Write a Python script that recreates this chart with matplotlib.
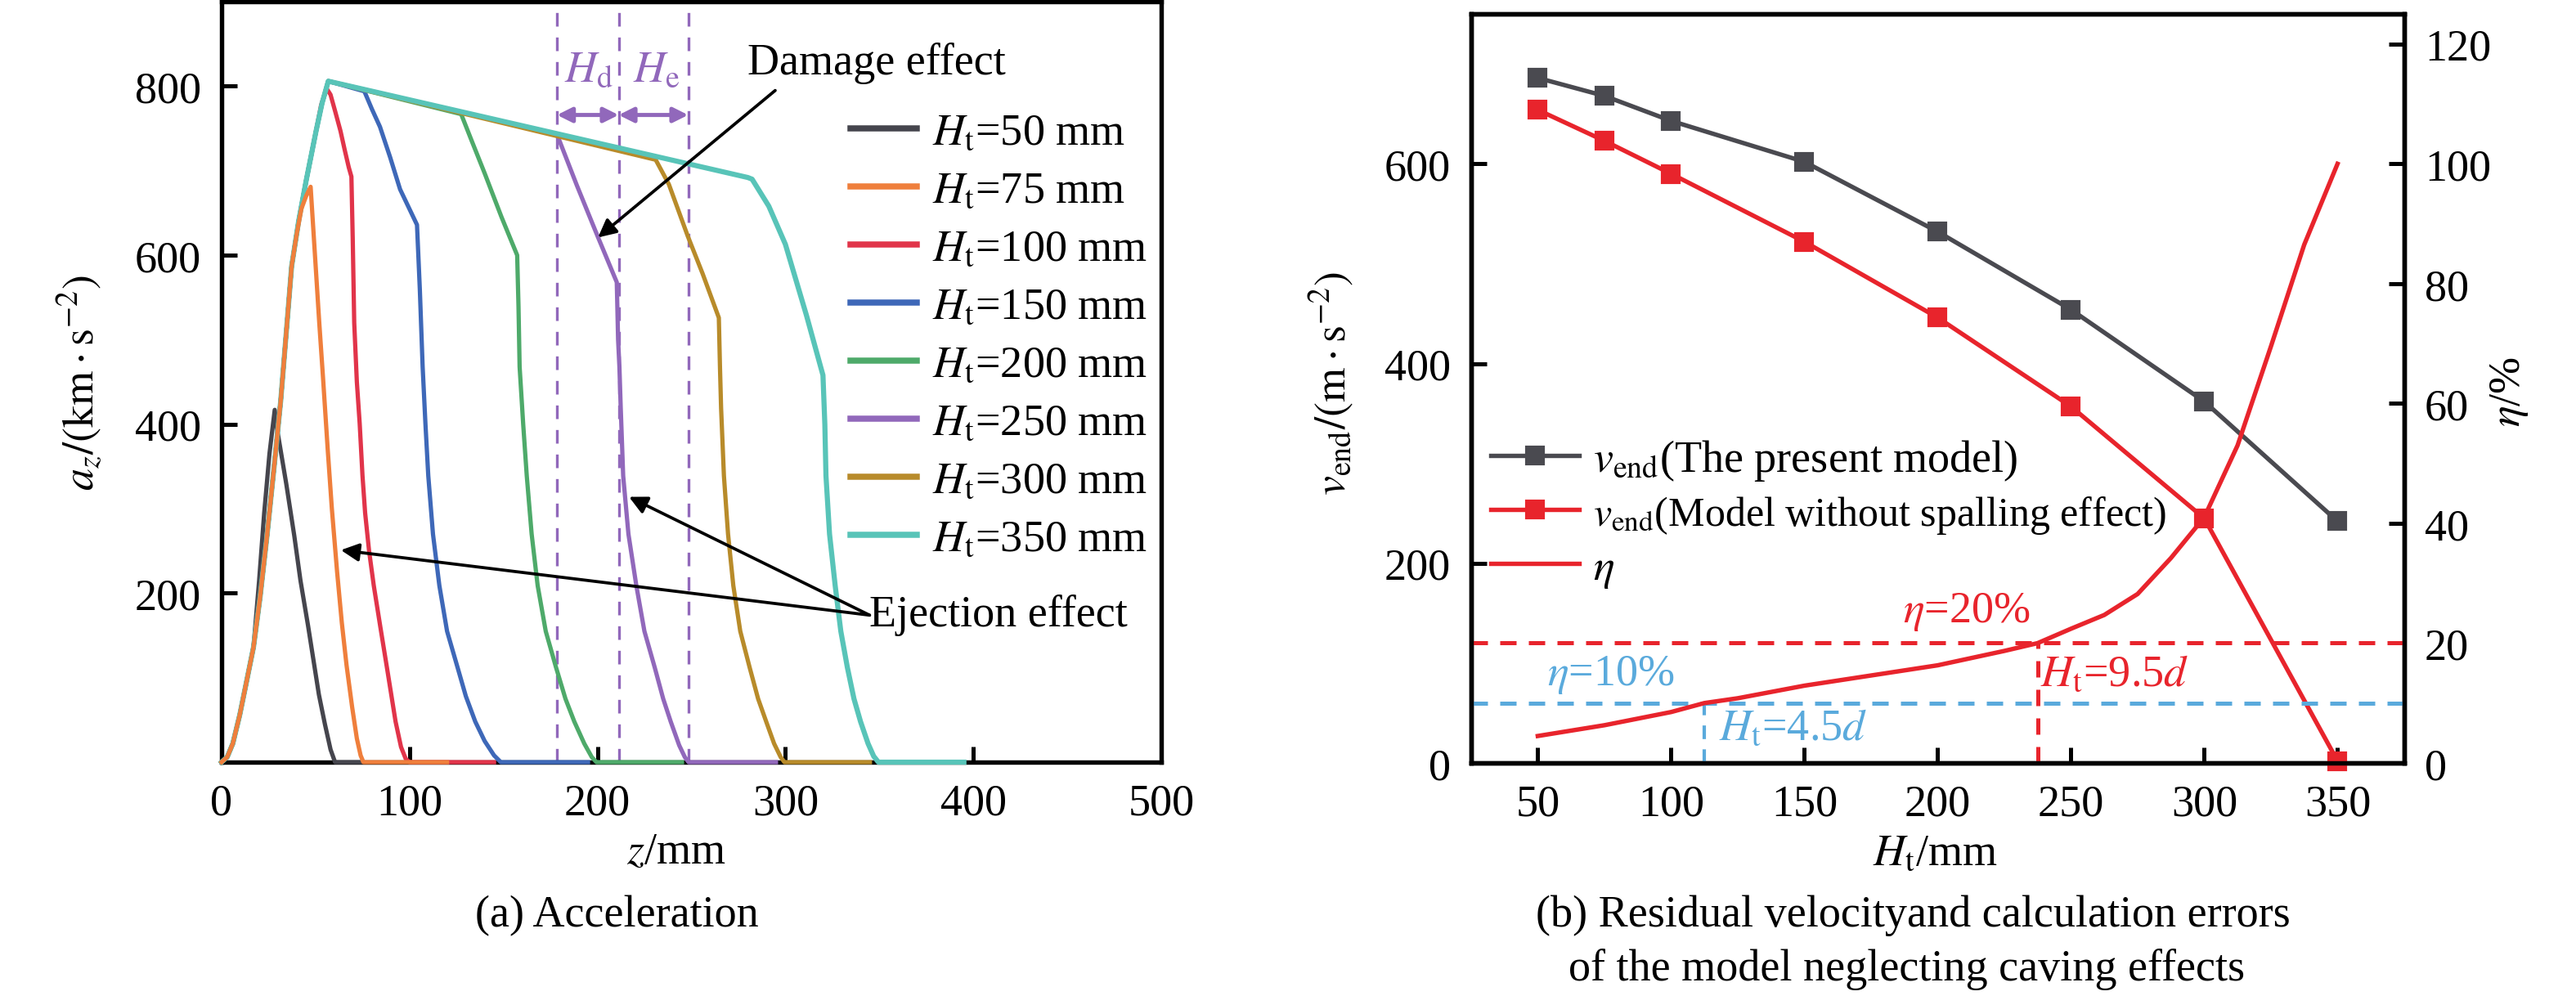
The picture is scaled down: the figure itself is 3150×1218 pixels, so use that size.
import matplotlib
matplotlib.use("Agg")
import matplotlib.pyplot as plt
from matplotlib.lines import Line2D

plt.rcParams['font.family'] = ['Liberation Serif', 'DejaVu Serif']
plt.rcParams['mathtext.fontset'] = 'stix'
plt.rcParams['font.size'] = 13

# ---- (a) acceleration curves ----
# common rising branch
z_rise = [0, 3, 6, 9.7, 13, 17, 20.5, 24.2, 28, 31.5, 34.5, 37.3]
a_rise = [0, 6, 22, 56, 92, 136, 195, 268, 350, 428, 510, 587]
# common top branch (H >= 150)
z_top = [41, 45, 50.3, 53.5, 56.8]
a_top = [640, 688, 747, 780, 806]

z_50 = [0, 3, 6, 9.7, 13, 17, 20, 22.7, 25.5, 28.3, 29.5, 34.4, 38.7, 42, 46, 51.8, 55, 58, 60.4, 74]
a_50 = [0, 6, 22, 56, 92, 136, 215, 295, 365, 417, 395, 330, 268, 215, 162, 80, 45, 15, 0, 0]

z_75 = z_rise + [40, 42.5, 45, 47.4, 48, 50, 52, 54, 56.5, 58.7, 61.5, 64, 66.5, 69.5, 72, 74, 75.5, 120]
a_75 = a_rise + [625, 655, 670, 681, 660, 590, 520, 455, 370, 300, 225, 165, 115, 65, 28, 8, 0, 0]

z_100 = z_rise + [41, 45, 50.3, 53, 56, 58, 60.5, 63.3, 65.5, 67.7, 69.1, 69.8, 70.6, 72, 73.5, 75,
                  76.4, 78.5, 81, 84.5, 88, 92.6, 95.5, 98, 100, 145]
a_100 = a_rise + [640, 688, 747, 778, 797, 790, 770, 747, 725, 704, 693, 620, 520, 450, 401, 339,
                  295, 250, 209, 160, 112, 48, 18, 4, 0, 0]

z_150 = z_rise + z_top + [76, 80, 84.3, 89.7, 95, 104, 105.5, 107, 108.5, 110, 112.5, 115.9, 120,
                          125.6, 130, 135, 140, 145, 148.6, 195]
a_150 = a_rise + a_top + [794, 773, 752, 716, 678, 636, 560, 468, 400, 339, 270, 209, 155,
                          112, 78, 48, 25, 8, 0, 0]

z_200 = z_rise + z_top + [127.5, 133, 140, 149, 157.3, 158, 158.6, 160.5, 162.4, 165, 168.2, 172.5,
                          178, 183, 187.7, 193, 197, 199.5, 245]
a_200 = a_rise + a_top + [767, 736, 697, 645, 600, 540, 468, 400, 339, 270, 209, 155,
                          112, 75, 48, 22, 6, 0, 0]

z_250 = z_rise + z_top + [178.5, 189, 200, 210.3, 211, 211.7, 212.4, 213.7, 216.5, 220.7, 225,
                          230.5, 235, 239, 243.5, 246.5, 248.5, 295]
a_250 = a_rise + a_top + [743, 683, 623, 568, 500, 468, 419, 339, 270, 209, 155,
                          112, 75, 48, 20, 6, 0, 0]

z_300 = z_rise + z_top + [231, 238, 248, 256, 264.6, 265.2, 265.8, 267.3, 269.5, 272.3, 276, 281,
                          285.5, 289.8, 294, 297.5, 299.5, 345]
a_300 = a_rise + a_top + [713, 684, 623, 578, 526, 468, 419, 339, 270, 209, 155, 112,
                          75, 48, 22, 6, 0, 0]

z_350 = z_rise + z_top + [280, 282.3, 291.2, 300, 311.2, 320, 321, 321.6, 323.5, 326.5, 329.5, 333,
                          336.5, 340, 344, 347, 349.5, 395]
a_350 = a_rise + a_top + [692, 690, 658, 613, 529, 458, 400, 339, 270, 209, 155, 112,
                          75, 48, 22, 7, 0, 0]

heights = [50, 75, 100, 150, 200, 250, 300, 350]
curves_z = [z_50, z_75, z_100, z_150, z_200, z_250, z_300, z_350]
curves_a = [a_50, a_75, a_100, a_150, a_200, a_250, a_300, a_350]
colors_a = ['#45454d', '#ef7f3c', '#e1344a', '#3e68b8', '#4eaa6a', '#9168bb', '#b88b2a', '#58c4b8']

# damage / ejection zone boundaries of the 250 mm case
z_hd = [178.5, 211.3]
z_he = [211.3, 248.3]

# ---- (b) residual velocity and error ----
h_vel = [50, 75, 100, 150, 200, 250, 300, 350]
v_present = [686, 668, 643, 602, 532, 454, 362, 242]
v_nospall = [654, 623, 590, 522, 446, 357, 245, 2]

h_eta = [50, 75, 100, 112.5, 125, 150, 175, 200, 225, 237.5, 250, 262.5, 275, 287.5, 300,
         312.5, 325, 337.5, 350]
eta = [4.5, 6.3, 8.5, 10, 10.8, 12.9, 14.6, 16.3, 18.7, 20, 22.4, 24.7, 28.2, 34.2, 41,
       53, 69.5, 86.5, 100]

fig = plt.figure(figsize=(10.5, 4.063), dpi=300)
ax1 = fig.add_axes([0.0860, 0.2346, 0.3648, 0.7629])
ax2 = fig.add_axes([0.5711, 0.2338, 0.3622, 0.7514])
ax3 = ax2.twinx()

for ax in (ax1, ax2, ax3):
    for s in ax.spines.values():
        s.set_linewidth(1.3)
    ax.tick_params(direction='in', length=4.5, width=1.2, labelsize=13, pad=6)

# ---------------- panel (a) ----------------
order = [0, 2, 3, 4, 5, 6, 7, 1]
for i in order:
    lw = 1.5 if heights[i] == 350 else 1.25
    ax1.plot(curves_z[i], curves_a[i], color=colors_a[i], lw=lw, zorder=3, clip_on=False)

ax1.set_xlim(0, 500)
ax1.set_ylim(0, 900)
ax1.set_xticks([0, 100, 200, 300, 400, 500])
ax1.set_yticks([200, 400, 600, 800])
ax1.set_xlabel(r'$z$/mm', va='center')
ax1.xaxis.set_label_coords(0.484, -0.118)
ax1.set_ylabel(r'$a_z/(\mathrm{km\cdot s^{-2}})$', va='center')
ax1.yaxis.set_label_coords(-0.151, 0.5)

purple = '#9168bb'
for zv in sorted(set(z_hd + z_he)):
    ax1.axvline(zv, color=purple, lw=0.8, ls=(0, (5, 4)), zorder=1)

for span in (z_hd, z_he):
    ax1.annotate('', xy=(span[1], 766), xytext=(span[0], 766),
                 arrowprops=dict(arrowstyle='<|-|>', color=purple, lw=1.2, mutation_scale=9,
                                 shrinkA=0, shrinkB=0))
ax1.text(195.6, 819, r'$H_{\mathrm{d}}$', color=purple, ha='center', va='center', fontsize=13)
ax1.text(231.5, 819, r'$H_{\mathrm{e}}$', color=purple, ha='center', va='center', fontsize=13)

ax1.text(280, 828, 'Damage effect', ha='left', va='center', fontsize=13)
ax1.annotate('', xy=(200.3, 621), xytext=(294.6, 795),
             arrowprops=dict(arrowstyle='-|>', color='black', lw=0.9, mutation_scale=11,
                             shrinkA=0, shrinkB=0))
ax1.text(344.8, 175, 'Ejection effect', ha='left', va='center', fontsize=13)
for xy in [(63.5, 251), (216.8, 314)]:
    ax1.annotate('', xy=xy, xytext=(344.8, 174),
                 arrowprops=dict(arrowstyle='-|>', color='black', lw=0.9, mutation_scale=11,
                                 shrinkA=0, shrinkB=0))

handles_a = [Line2D([], [], color=colors_a[i], lw=1.8) for i in range(len(heights))]
labels_a = [r'$H_{\mathrm{t}}$=%d mm' % h for h in heights]
ax1.legend(handles_a, labels_a, loc='center left', bbox_to_anchor=(0.669, 0.560),
           frameon=False, fontsize=13, handlelength=1.5, handletextpad=0.35,
           labelspacing=0.38, borderpad=0, borderaxespad=0)

# ---------------- panel (b) ----------------
gray = '#4a4a50'
red = '#e8242c'
blue = '#5aaadc'
l1, = ax2.plot(h_vel, v_present, color=gray, lw=1.3, marker='s', ms=4.6, zorder=3)
l2, = ax2.plot(h_vel, v_nospall, color=red, lw=1.3, marker='s', ms=4.6, zorder=3, clip_on=False)
l3, = ax3.plot(h_eta, eta, color=red, lw=1.3, zorder=3)

ax2.set_xlim(25, 375)
ax2.set_ylim(0, 750)
ax3.set_ylim(0, 125)
ax2.set_xticks([50, 100, 150, 200, 250, 300, 350])
ax2.set_yticks([0, 200, 400, 600])
ax3.set_yticks([0, 20, 40, 60, 80, 100, 120])

dash = (0, (4, 3))
ax3.axhline(20, color=red, lw=1.2, ls=dash)
ax3.axhline(10, color=blue, lw=1.2, ls=dash)
ax3.plot([237.5, 237.5], [0, 20], color=red, lw=1.2, ls=dash)
ax3.plot([112.5, 112.5], [0, 10], color=blue, lw=1.0, ls=dash)

ax3.text(210.7, 25.3, r'$\eta$=20%', color=red, ha='center', va='center', fontsize=13)
ax3.text(77.3, 14.8, r'$\eta$=10%', color=blue, ha='center', va='center', fontsize=13)
ax3.text(238.5, 14.8, r'$H_{\mathrm{t}}$=9.5$d$', color=red, ha='left', va='center', fontsize=13)
ax3.text(118, 5.8, r'$H_{\mathrm{t}}$=4.5$d$', color=blue, ha='left', va='center', fontsize=13)

ax2.set_xlabel(r'$H_{\mathrm{t}}$/mm', va='center')
ax2.xaxis.set_label_coords(0.497, -0.121)
ax2.set_ylabel(r'$v_{\mathrm{end}}/(\mathrm{m\cdot s^{-2}})$', va='center')
ax2.yaxis.set_label_coords(-0.150, 0.508)
ax3.set_ylabel(r'$\eta$/%', va='center', rotation=90)
ax3.yaxis.set_label_coords(1.113, 0.497)

leg = ax2.legend([l1, l2, l3],
                 [r'$v_{\mathrm{end}}$(The present model)',
                  r'$v_{\mathrm{end}}$(Model without spalling effect)',
                  r'$\eta$'],
                 loc='center left', bbox_to_anchor=(0.021, 0.333), frameon=False, fontsize=13,
                 handlelength=2.0, handletextpad=0.3, labelspacing=0.27, borderpad=0,
                 borderaxespad=0)
leg.get_texts()[1].set_fontsize(12)

fig.text(754 / 3150, 1 - 1120 / 1219, '(a) Acceleration', ha='center', va='center', fontsize=13)
fig.text(2339 / 3150, 1 - 1119.5 / 1219, '(b) Residual velocityand calculation errors',
         ha='center', va='center', fontsize=13)
fig.text(2332 / 3150, 1 - 1185.6 / 1219, 'of the model neglecting caving effects',
         ha='center', va='center', fontsize=13)

fig.savefig('out.png', dpi=300)
